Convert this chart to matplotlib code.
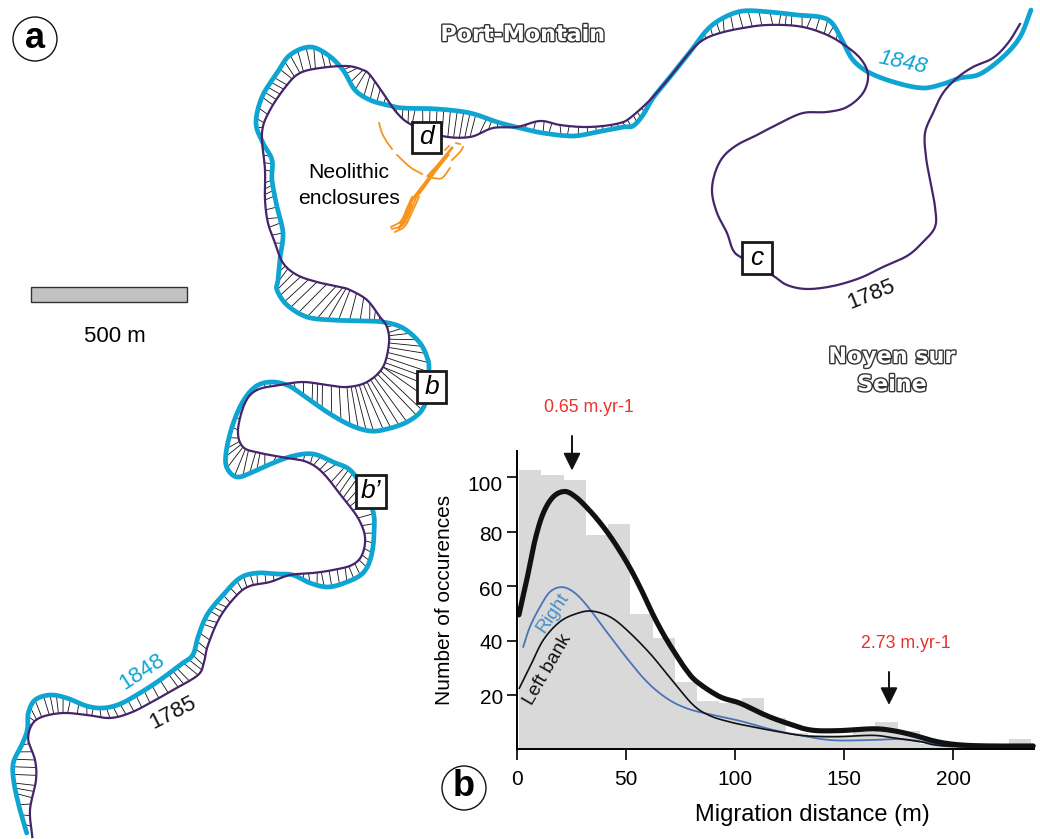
import numpy as np
import matplotlib
matplotlib.use('Agg')
import matplotlib.pyplot as plt
import matplotlib.patheffects as pe
from matplotlib.patches import Circle, Rectangle
from matplotlib.transforms import ScaledTranslation
from matplotlib import font_manager as fm

# ---------- chart data ----------
hist_values = [102.7, 100.8, 99, 78.8, 82.9, 49.8, 41, 24.9, 17.9, 17.3, 19, 11.7, 6.3, 5.5,
               5.5, 6.5, 10.2, 7, 2.2, 1.5, 1.5, 1.5, 3.9]
bin_start = 1.05
bin_width = 10.2

total_x = [1, 4.6, 8.4, 12.2, 16.8, 22.1, 27, 32, 37, 42, 47, 52.4, 57.5, 62.5, 67.5, 72.5, 77.5, 82.5, 93,
           102.3, 113.7, 123.7, 134.3, 146.6, 163.2, 172.5, 181.6, 192.4, 203, 216.8, 236.6]
total_y = [49.5, 62.3, 77, 86.9, 92.9, 94.8, 92.8, 89, 84.5, 79.3, 73.3, 66, 58, 49.5, 42, 35.5, 29.5, 25, 19.5,
           17.1, 12.8, 9.8, 7.3, 7, 7.7, 7, 5.4, 3, 1.8, 1.4, 1.4]
right_x = [3, 6.1, 10.7, 15.3, 20.6, 25.9, 32, 41.2, 50.4, 59.6, 68.7, 77.9, 88.5, 102.3, 117.4, 131.3,
           144.9, 163, 175.6, 188, 200, 236]
right_y = [37.8, 45.2, 52.5, 58, 59.7, 58, 53.1, 43.3, 33.7, 25, 18.9, 15.2, 13, 10.6, 7.3, 5.1, 3.5, 3.6,
           3.9, 2.8, 1.1, 0.7]
left_x = [1.2, 6.1, 12.2, 19.8, 27.5, 34.4, 42.7, 50.4, 61, 71.7, 80.9, 88.5, 97.7, 106.9, 117.4, 131.3,
          146.6, 163, 172.5, 184.7, 197, 236]
left_y = [22.6, 30.5, 40.3, 47, 50, 50.9, 48.8, 44, 35.4, 25, 16.4, 12.5, 10.2, 8.6, 7, 5.2, 4.8, 5.3,
          4.4, 3, 1.4, 1]
x_ticks = [0, 50, 100, 150, 200]
y_ticks = [20, 40, 60, 80, 100]
y_label_drop_px = [1.3, 0.7, 2.3, 1.7, 6]

# ---------- map data (river traces, read in image pixels) ----------
river_1848 = [(26.7,833),(20,810),(14,783),(13.3,763),(21.7,745),(27.3,730),(28.3,713),(35,700),(50,695),
    (66.7,698),(86.7,706),(103,708),(120,704),(140,693),(160,680),(180,665),(192.7,655),(198,637),(207,615),
    (223,595),(240,578),(257,573),(277,574),(293,575),(310,583),(328,587),(347,582),(363,573),(371,557),
    (374,533),(372,508),(353,473),(333,462),(313,454),(293,456),(273,463),(253,472),(237,477),(227,468),
    (226,453),(232,427),(242,403),(255,387),(270,382),(287,385),(303,395),(327,412),(350,425),(370,431),
    (387,429),(407,422),(422,410),(429,390),(429,372),(428,360),(420,343),(403,328),(383,322),(360,321),
    (333,320),(307,317),(287,305),(277,290),(278,280),(280,258),(283,233),(277,207),(272,180),(272,160),
    (263,143),(256,123),(262,97),(277,73),(290,55),(310,47),(328,55),(343,70),(355,90),(370,100),(387,105),
    (403,108),(437,109),(470,113),(497,122),(520,128),(543,133),(573,136),(597,132),(623,127),(633,126),
    (643,115),(653,98),(670,77),(690,52),(707,30),(723,18),(743,11),(770,12),(797,15),(820,17),(832,23),
    (842,40),(853,60),(870,73),(897,83),(923,88),(943,84),(960,78),(980,74),(1003,57),(1020,37),(1031,10)]
river_1785 = [(32.3,837),(30,810),(36,780),(35,760),(28.3,740),(31.7,725),(41.7,717),(63,713),(87,715),
    (110,718),(130,713),(150,703),(173,690),(198,675),(204,662),(208,645),(220,617),(237,595),(250,586),
    (270,582),(290,575),(313,573),(333,570),(352,565),(362,555),(365,537),(358,518),(343,498),(323,473),
    (307,462),(287,458),(260,453),(243,447),(238,430),(245,403),(257,390),(280,385),(303,382),(327,385),
    (347,387),(367,382),(383,367),(389,343),(387,327),(380,317),(367,300),(350,290),(340,287),(317,282),
    (297,275),(283,263),(275,243),(268,223),(265,200),(265,170),(262,133),(270,110),(287,85),(300,73),
    (320,68),(347,66),(363,70),(370,75),(383,93),(397,113),(412,125),(442,136),(470,137),(493,128),(517,127),
    (540,121),(560,125),(583,127),(603,126),(620,123),(630,118),(650,100),(670,77),(690,52),(703,40),(720,33),
    (743,28),(767,25),(797,26),(820,32),(840,42),(860,58),(868,75),(863,93),(847,107),(827,112),(803,113),
    (780,123),(757,135),(737,145),(723,157),(715,173),(712,192),(717,213),(727,233),(733,250),(742,258),
    (772,275),(787,285),(807,289),(833,286),(860,278),(883,267),(907,256),(922,243),(935,227),(935,207),
    (930,180),(926,157),(925,133),(933,113),(943,93),(957,78),(973,67),(993,58),(1008,43),(1020,24)]
hatch_end = (840, 41)

orange_thin = [[(379,123),(382,133),(387,142),(392,149)], [(397,155),(410,167),(422,174)],
    [(392,229),(403,225),(410,212),(416,198)], [(395,232),(405,226),(413,210),(419,197)],
    [(391,227),(401,221),(407,208),(412,197)],
    [(433,178),(442,178),(450,168)], [(452,160),(460,152),(463,147)], [(445,150),(449,146)],
    [(456,143),(460,144)], [(420,193),(431,177)]]
orange_thick = [[(412,200),(422,187),(432,174),(442,161)], [(428,176),(438,165),(452,148)],
    [(401,223),(407,212),(412,200)], [(416,197),(426,184),(436,170),(448,155)], [(399,228),(406,218),(411,205)]]

CYAN = '#0ea5d3'
PURPLE = '#46246b'
ORANGE = '#f7941d'
SANS = 'Liberation Sans'
plt.rcParams['font.family'] = SANS
names = {f.name for f in fm.fontManager.ttflist}
NARROW = 'Liberation Sans Narrow' if 'Liberation Sans Narrow' in names else SANS


def smooth(points, n=10):
    """Catmull-Rom rendering of a traced line, only to draw it without kinks."""
    p = np.asarray(points, float)
    q = np.vstack([2 * p[0] - p[1], p, 2 * p[-1] - p[-2]])
    t = np.linspace(0, 1, n, endpoint=False)[:, None]
    out = []
    for i in range(1, len(q) - 2):
        a, b, c, d = q[i - 1], q[i], q[i + 1], q[i + 2]
        out.append(0.5 * (2 * b + (c - a) * t + (2 * a - 5 * b + 4 * c - d) * t ** 2
                          + (3 * b - a - 3 * c + d) * t ** 3))
    out.append(p[-1:])
    return np.vstack(out)


def hatch_pairs(a, b, step):
    """Monotone matching of two traced lines (fans appear where one is the inner bend)."""
    dist = np.hypot(a[:, None, 0] - b[None, :, 0], a[:, None, 1] - b[None, :, 1])
    na, nb = dist.shape
    cost = np.full((na, nb), np.inf)
    cost[0, 0] = dist[0, 0]
    for i in range(na):
        for j in range(nb):
            if i == 0 and j == 0:
                continue
            best = np.inf
            if i > 0:
                best = min(best, cost[i - 1, j])
            if j > 0:
                best = min(best, cost[i, j - 1])
            if i > 0 and j > 0:
                best = min(best, cost[i - 1, j - 1])
            cost[i, j] = dist[i, j] + best
    i, j = na - 1, nb - 1
    walk = [(i, j)]
    while i > 0 or j > 0:
        opts = []
        if i > 0 and j > 0:
            opts.append((cost[i - 1, j - 1], i - 1, j - 1))
        if i > 0:
            opts.append((cost[i - 1, j], i - 1, j))
        if j > 0:
            opts.append((cost[i, j - 1], i, j - 1))
        _, i, j = min(opts)
        walk.append((i, j))
    walk.reverse()
    out, acc = [], 0.0
    for (i0, j0), (i1, j1) in zip(walk[:-1], walk[1:]):
        acc += 0.5 * (np.hypot(*(a[i1] - a[i0])) + np.hypot(*(b[j1] - b[j0])))
        if acc >= step:
            acc = 0.0
            if dist[i1, j1] > 1.5:
                out.append((a[i1], b[j1]))
    return out


W, H = 1040, 839
fig = plt.figure(figsize=(W / 100, H / 100), dpi=100, facecolor='white')
m = fig.add_axes([0, 0, 1, 1])
m.set_xlim(0, W)
m.set_ylim(H, 0)
m.axis('off')

c1848 = smooth(river_1848)
c1785 = smooth(river_1785)

# migration hatch
s48 = smooth(river_1848, 5)
s85 = smooth(river_1785, 5)
e48 = np.argmin(np.hypot(*(s48 - np.array(hatch_end)).T))
e85 = np.argmin(np.hypot(*(s85 - np.array(hatch_end)).T))
for pa, pb in hatch_pairs(s85[:e85 + 1], s48[:e48 + 1], 5.5):
    m.plot([pa[0], pb[0]], [pa[1], pb[1]], color='#111111', lw=0.6, zorder=2)

m.plot(*c1848.T, color=CYAN, lw=3.4, solid_capstyle='round', zorder=3)
m.plot(*c1785.T, color=PURPLE, lw=1.6, zorder=4)
for arc_pts in orange_thin:
    m.plot(*smooth(arc_pts).T, color=ORANGE, lw=1.3, zorder=3)
for arc_pts in orange_thick:
    m.plot(*smooth(arc_pts).T, color=ORANGE, lw=2.0, zorder=3)

# boxes
for (x0, y0, x1, y1, s) in [(412, 122, 441, 153, 'd'), (417, 371, 446, 403, 'b'),
                            (356, 475, 386, 508, 'b\u2019'), (742, 242, 772, 274, 'c')]:
    m.add_patch(Rectangle((x0, y0), x1 - x0, y1 - y0, fc='white', ec='#1a1a1a', lw=2.0, zorder=5))
    m.text((x0 + x1) / 2, (y0 + y1) / 2, s, style='italic', fontsize=19, ha='center', va='center', zorder=6)

# panel labels
for (cx, cy, s) in [(35, 39, 'a'), (464, 788, 'b')]:
    m.add_patch(Circle((cx, cy), 22, fc='white', ec='#111111', lw=1.0, zorder=5))
    m.text(cx, cy - 1, s, fontsize=26, fontweight='bold', ha='center', va='center', zorder=6)

# scale bar
m.add_patch(Rectangle((31, 287), 156, 15, fc='#c1c3c1', ec='#333333', lw=1.0))
m.text(115, 337, '500 m', fontsize=16, ha='center', va='center')
m.text(349, 173, 'Neolithic', fontsize=15.2, ha='center', va='center')
m.text(349, 198, 'enclosures', fontsize=15.2, ha='center', va='center')

# place names
halo = [pe.withStroke(linewidth=2.0, foreground='#333333')]
for (x, y, s) in [(523, 35, 'Port-Montain'), (892, 357, 'Noyen sur'), (892, 385, 'Seine')]:
    m.text(x, y, s, fontsize=16, fontweight='bold', family='DejaVu Sans', color='white',
           ha='center', va='center', path_effects=halo)

# year labels
m.text(142, 672, '1848', color=CYAN, fontsize=16, rotation=33, ha='center', va='center')
m.text(173, 713, '1785', color='#111111', fontsize=16, rotation=27, ha='center', va='center')
m.text(903, 63, '1848', color=CYAN, fontsize=16, style='italic', rotation=-12, ha='center', va='center')
m.text(871, 295, '1785', color='#111111', fontsize=16, rotation=22, ha='center', va='center')

# histogram panel
px0, px1, py0, py1 = 516.7, 1034, 748.7, 451
ax = fig.add_axes([px0 / W, 1 - py0 / H, (px1 - px0) / W, (py0 - py1) / H])
ax.patch.set_alpha(0)
ax.set_xlim(0, (px1 - px0) / 2.183)
ax.set_ylim(0.4, (749.8 - py1) / 2.725)
edges = bin_start + bin_width * np.arange(len(hist_values))
ax.bar(edges, hist_values, width=bin_width, align='edge', color='#d9d9d9', lw=0, zorder=1)
ax.plot(*smooth(list(zip(right_x, right_y))).T, color='#4a74b8', lw=1.3, zorder=3)
ax.plot(*smooth(list(zip(left_x, left_y))).T, color='#111111', lw=1.2, zorder=3)
ax.plot(*smooth(list(zip(total_x, total_y))).T, color='#111111', lw=3.7, zorder=4, clip_on=False,
        solid_capstyle='round')
for s in ('top', 'right'):
    ax.spines[s].set_visible(False)
for s in ('left', 'bottom'):
    ax.spines[s].set_linewidth(1.4)
    ax.spines[s].set_zorder(5)
ax.set_xticks(x_ticks)
ax.set_yticks(y_ticks)
ax.tick_params(axis='x', length=8, width=1.2, labelsize=15, pad=7)
ax.tick_params(axis='y', length=7, width=1.2, labelsize=15, pad=3)
for lbl, drop in zip(ax.get_yticklabels(), y_label_drop_px):
    lbl.set_transform(lbl.get_transform() + ScaledTranslation(0, -drop / 100, fig.dpi_scale_trans))

m2 = fig.add_axes([0, 0, 1, 1])
m2.set_xlim(0, W)
m2.set_ylim(H, 0)
m2.axis('off')
m2.patch.set_alpha(0)
m2.text(812, 815, 'Migration distance (m)', fontsize=17, ha='center', va='center')
m2.text(445, 600, 'Number of occurences', fontsize=15, rotation=90, ha='center', va='center')
m2.text(553, 613, 'Right', color='#4a8cc4', fontsize=13.8, rotation=56, ha='center', va='center')
m2.text(548, 670, 'Left bank', color='#111111', fontsize=13.8, rotation=60, ha='center', va='center')
m2.text(589, 408, '0.65 m.yr-1', color='#e8322d', fontsize=12.8, family=NARROW, ha='center', va='center')
m2.text(906, 644, '2.73 m.yr-1', color='#e8322d', fontsize=12.8, family=NARROW, ha='center', va='center')
for (x, y0, y1) in [(572, 436, 470.5), (889, 672, 705)]:
    m2.annotate('', xy=(x, y1), xytext=(x, y0),
                arrowprops=dict(arrowstyle='-|>,head_width=0.52,head_length=1.05', color='#111111', lw=1.4,
                                shrinkA=0, shrinkB=0))

fig.savefig('out.png', dpi=100)
